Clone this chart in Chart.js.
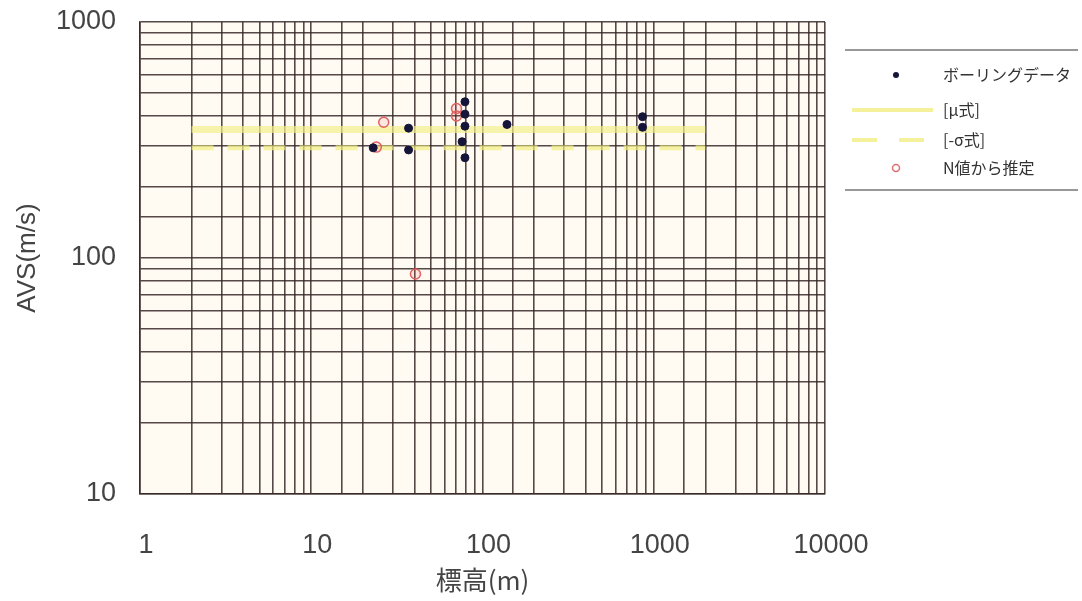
<!DOCTYPE html>
<html>
<head>
<meta charset="utf-8">
<script src="https://cdn.jsdelivr.net/npm/chart.js@4/dist/chart.umd.min.js"></script>
<style>
  html, body { margin: 0; padding: 0; background: #fff; }
  #wrap { position: relative; width: 1082px; height: 601px; }
</style>
</head>
<body>
<div id="wrap"><canvas id="myChart" width="1082" height="601"></canvas></div>
<script>
// values
const boringX = [23, 37, 37, 79, 79, 79, 76, 79, 139, 860, 860];
const boringY = [293, 355, 287, 459, 407, 362, 311, 266, 368, 397, 358];

const nValueX = [24, 26.5, 70.5, 70.5, 40.6];
const nValueY = [295, 376, 430, 400, 85.5];

const lineX = [2, 2000];
const muY = [350, 350];
const sigmaY = [293, 293];

const xTickLabels = [1, 10, 100, 1000, 10000];
const yTickLabels = [10, 100, 1000];

const legendLabels = ["ボーリングデータ", "[μ式]", "[-σ式]", "N値から推定"];

const toPoints = (xs, ys) => xs.map((x, i) => ({ x: x, y: ys[i] }));

const tickFont = { family: "'Liberation Sans', Arial, sans-serif", size: 27 };
const titleFont = { family: "'Noto Sans CJK JP', 'Liberation Sans', sans-serif", size: 26 };
const gridColor = "rgba(55, 40, 40, 0.85)";

const plotBg = {
  id: "plotBg",
  beforeDraw(chart) {
    const { ctx, chartArea: a } = chart;
    ctx.save();
    ctx.fillStyle = "#fffaf2";
    ctx.fillRect(a.left, a.top, a.right - a.left, a.bottom - a.top);
    ctx.restore();
  }
};

// legend drawn on the right like the original
const sideLegend = {
  id: "sideLegend",
  afterDraw(chart) {
    const ctx = chart.ctx;
    const x0 = 845, x1 = 1078;
    const rows = [75, 110, 140, 168];
    ctx.save();
    ctx.strokeStyle = "#777";
    ctx.lineWidth = 1.5;
    ctx.beginPath();
    ctx.moveTo(x0, 50); ctx.lineTo(x1, 50);
    ctx.moveTo(x0, 190); ctx.lineTo(x1, 190);
    ctx.stroke();

    ctx.fillStyle = "#15153a";
    ctx.beginPath();
    ctx.arc(896, rows[0], 3, 0, Math.PI * 2);
    ctx.fill();

    ctx.strokeStyle = "rgba(240, 236, 120, 0.75)";
    ctx.lineWidth = 4;
    ctx.beginPath();
    ctx.moveTo(852, rows[1]); ctx.lineTo(933, rows[1]);
    ctx.stroke();

    ctx.setLineDash([25, 22]);
    ctx.beginPath();
    ctx.moveTo(852, rows[2]); ctx.lineTo(933, rows[2]);
    ctx.stroke();
    ctx.setLineDash([]);

    ctx.strokeStyle = "#e07070";
    ctx.lineWidth = 1.5;
    ctx.beginPath();
    ctx.arc(896, rows[3], 3.5, 0, Math.PI * 2);
    ctx.stroke();

    ctx.fillStyle = "#333";
    ctx.font = "16px 'Noto Sans CJK JP', sans-serif";
    ctx.textBaseline = "middle";
    ctx.textAlign = "left";
    legendLabels.forEach((t, i) => ctx.fillText(t, 943, rows[i]));
    ctx.restore();
  }
};

document.addEventListener("DOMContentLoaded", () => {
  const ctx = document.getElementById("myChart");
  new Chart(ctx, {
    type: "scatter",
    data: {
      datasets: [
        {
          label: legendLabels[0],
          data: toPoints(boringX, boringY),
          backgroundColor: "#15153a",
          borderColor: "#15153a",
          pointRadius: 4,
          order: 1
        },
        {
          label: legendLabels[3],
          data: toPoints(nValueX, nValueY),
          backgroundColor: "rgba(235, 90, 90, 0.12)",
          borderColor: "#e06060",
          borderWidth: 1.5,
          pointRadius: 5,
          order: 2
        },
        {
          label: legendLabels[1],
          data: toPoints(lineX, muY),
          showLine: true,
          borderColor: "rgba(244, 240, 140, 0.7)",
          borderWidth: 7,
          pointRadius: 0,
          order: 3
        },
        {
          label: legendLabels[2],
          data: toPoints(lineX, sigmaY),
          showLine: true,
          borderColor: "rgba(242, 238, 130, 0.7)",
          borderWidth: 5,
          borderDash: [22, 14],
          pointRadius: 0,
          order: 3
        }
      ]
    },
    options: {
      responsive: false,
      animation: false,
      layout: { padding: { left: 0, top: 22, right: 257, bottom: 0 } },
      plugins: {
        legend: { display: false },
        tooltip: { enabled: false }
      },
      scales: {
        x: {
          type: "logarithmic",
          min: 1,
          max: 10000,
          afterFit(scale) {
            scale.height = 107;
            scale.paddingLeft = 0;
            scale.paddingRight = 0;
          },
          grid: { color: gridColor, lineWidth: 1.6, drawTicks: false },
          border: { color: gridColor, width: 1.6 },
          ticks: {
            autoSkip: false,
            maxRotation: 0,
            padding: 35,
            labelOffset: 6,
            color: "#444",
            font: tickFont,
            callback: (v) => xTickLabels.includes(v) ? String(v) : ""
          },
          title: {
            display: true,
            text: "標高(m)",
            color: "#444",
            font: titleFont,
            padding: { top: 0, bottom: 5 }
          }
        },
        y: {
          type: "logarithmic",
          min: 10,
          max: 1000,
          afterFit(scale) {
            scale.width = 140;
            scale.paddingTop = 0;
            scale.paddingBottom = 0;
          },
          grid: { color: gridColor, lineWidth: 1.6, drawTicks: false },
          border: { color: gridColor, width: 1.6 },
          ticks: {
            autoSkip: false,
            padding: 24,
            color: "#444",
            font: tickFont,
            callback: (v) => yTickLabels.includes(v) ? String(v) : ""
          },
          title: {
            display: true,
            text: "AVS(m/s)",
            color: "#444",
            font: { family: "'Liberation Sans', Arial, sans-serif", size: 26 },
            padding: { top: 12, bottom: 0 }
          }
        }
      }
    },
    plugins: [plotBg, sideLegend]
  });
});
</script>
</body>
</html>
